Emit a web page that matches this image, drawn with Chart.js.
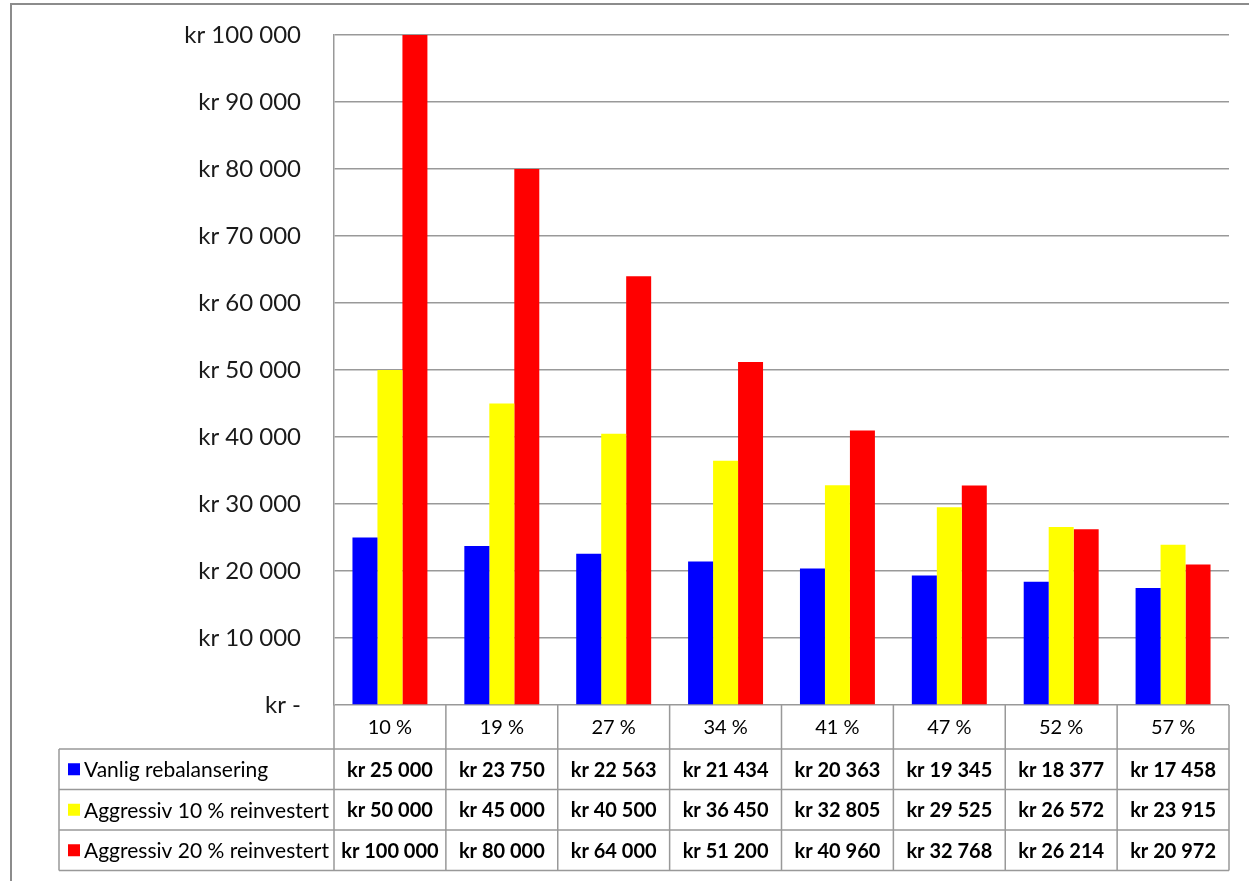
<!DOCTYPE html>
<html>
<head>
<meta charset="utf-8">
<script src="https://cdn.jsdelivr.net/npm/chart.js@4/dist/chart.umd.min.js"></script>
<style>
  html, body { margin: 0; padding: 0; background: #fff; }
  canvas { display: block; }
</style>
</head>
<body>
<canvas id="chart" width="1249" height="881"></canvas>
<script>
'use strict';

var categories = ['10 %', '19 %', '27 %', '34 %', '41 %', '47 %', '52 %', '57 %'];
var seriesNames = ['Vanlig rebalansering', 'Aggressiv 10 % reinvestert', 'Aggressiv 20 % reinvestert'];
var vanlig = [25000, 23750, 22563, 21434, 20363, 19345, 18377, 17458];
var aggr10 = [50000, 45000, 40500, 36450, 32805, 29525, 26572, 23915];
var aggr20 = [100000, 80000, 64000, 51200, 40960, 32768, 26214, 20972];
var colors = ['#0000ff', '#ffff00', '#ff0000'];

var FONT = 'Lato, "Open Sans", sans-serif';
var LINE = '#999999';

function kr(v) {
   if (v === 0) return 'kr -';
   return 'kr ' + String(v).replace(/\B(?=(\d{3})+(?!\d))/g, ' ');
}

// draws the outer frame and the data table under the plot
var tablePlugin = {
   id: 'dataTable',
   beforeDraw: function (chart) {
      var ctx = chart.ctx;
      ctx.save();
      ctx.fillStyle = '#fff';
      ctx.fillRect(0, 0, chart.width, chart.height);
      ctx.strokeStyle = '#8c8c8c';
      ctx.lineWidth = 2;
      ctx.strokeRect(11, 4, chart.width + 20, chart.height + 20);
      ctx.restore();
   },
   afterDraw: function (chart) {
      var ctx = chart.ctx;
      var area = chart.chartArea;
      var x = chart.scales.x;
      var step = (area.right - area.left) / categories.length;
      var headTop = area.bottom, headBottom = area.bottom + 44;
      var rowH = 40.5;
      var legendLeft = 59;
      var data = [vanlig, aggr10, aggr20];

      ctx.save();
      ctx.strokeStyle = LINE;
      ctx.lineWidth = 1.5;

      // header row borders
      ctx.beginPath();
      ctx.moveTo(area.left, headBottom);
      ctx.lineTo(area.right, headBottom);
      ctx.moveTo(area.right, headTop);
      ctx.lineTo(area.right, headBottom + rowH * 3);
      for (var i = 0; i <= categories.length; i++) {
         var lx = area.left + step * i;
         ctx.moveTo(lx, headTop);
         ctx.lineTo(lx, headBottom + rowH * 3);
      }
      // series rows
      for (var r = 0; r <= 3; r++) {
         var ly = headBottom + rowH * r;
         ctx.moveTo(legendLeft, ly);
         ctx.lineTo(area.right, ly);
      }
      ctx.moveTo(legendLeft, headBottom);
      ctx.lineTo(legendLeft, headBottom + rowH * 3);
      ctx.stroke();

      ctx.fillStyle = '#000';
      ctx.textBaseline = 'middle';
      ctx.textAlign = 'center';
      ctx.font = '20px ' + FONT;
      categories.forEach(function (c, j) {
         ctx.fillText(c, x.getPixelForValue(j), (headTop + headBottom) / 2 + 1);
      });

      data.forEach(function (vals, r) {
         var cy = headBottom + rowH * r + rowH / 2 + 1;
         ctx.font = 'bold 20px ' + FONT;
         ctx.textAlign = 'center';
         ctx.fillStyle = '#000';
         vals.forEach(function (v, j) {
            ctx.fillText(kr(v), x.getPixelForValue(j), cy);
         });
         ctx.fillStyle = colors[r];
         ctx.fillRect(legendLeft + 9, cy - 7, 12, 12);
         ctx.fillStyle = '#000';
         ctx.textAlign = 'left';
         ctx.font = '21px ' + FONT;
         ctx.fillText(seriesNames[r], legendLeft + 25, cy);
      });
      ctx.restore();
   }
};

var ctx = document.getElementById('chart').getContext('2d');
var chart = new Chart(ctx, {
   type: 'bar',
   data: {
      labels: categories,
      datasets: [vanlig, aggr10, aggr20].map(function (vals, i) {
         return {
            label: seriesNames[i],
            data: vals,
            backgroundColor: colors[i],
            borderWidth: 0,
            categoryPercentage: 0.67,
            barPercentage: 1.0
         };
      })
   },
   options: {
      responsive: false,
      animation: false,
      layout: { padding: { top: 35, right: 20, bottom: 176, left: 0 } },
      plugins: {
         legend: { display: false },
         tooltip: { enabled: false }
      },
      scales: {
         x: { display: false },
         y: {
            min: 0,
            max: 100000,
            afterFit: function (scale) {
               scale.width = 334;
               scale.paddingTop = 15;   // the tick padding was being added on top
               scale.paddingBottom = 15;
            },
            ticks: {
               stepSize: 10000,
               padding: 33,
               color: '#1a1a1a',
               font: { family: FONT, size: 24 },
               callback: function (v) { return kr(v); }
            },
            grid: { color: LINE, lineWidth: 1.5, drawTicks: false },
            border: { color: LINE, width: 1.5 }
         }
      }
   },
   plugins: [tablePlugin]
});
</script>
</body>
</html>
